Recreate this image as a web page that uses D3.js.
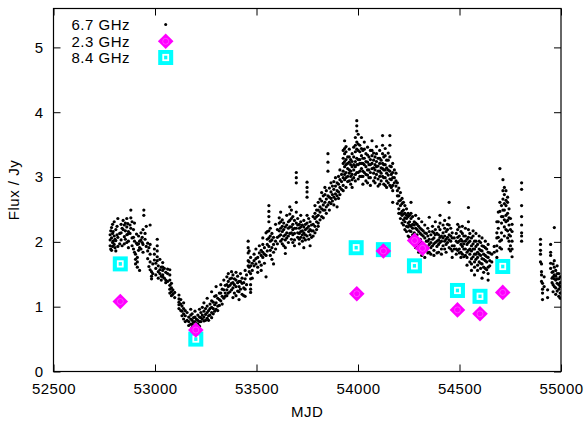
<!DOCTYPE html>
<html><head><meta charset="utf-8">
<script src="https://cdn.jsdelivr.net/npm/d3@7"></script>
<style>
html,body{margin:0;padding:0;background:#fff;}
svg text{font-family:"Liberation Sans",Arial,sans-serif;font-size:15px;letter-spacing:0.5px;fill:#000;}
</style></head>
<body>
<svg id="chart" width="584" height="421"></svg>
<script>
// 6.7 GHz monitoring: [MJD, [flux values read at that epoch]]
const flux67 = [
[52779,[2.11,1.94,2.03]],[52782,[1.89,2.17]],[52786,[2.22,2.06,1.87]],[52791,[2.27,2.13,1.99,1.93]],[52794,[2.16,2.01]],
[52799,[2.31,2.09,1.96]],[52803,[2.04,1.91]],[52807,[2.19,2.02,1.86]],[52813,[2.24,2.11]],[52817,[2.07,1.93,2.36]],
[52826,[2.13,1.97]],[52833,[2.27,2.14,2.03]],[52838,[2.21,1.94]],[52843,[2.33,2.19]],[52849,[2.08,1.97,2.26]],
[52854,[2.29,2.17,2.04]],[52861,[2.36,2.23,2.11,1.99]],[52866,[2.12,2.28]],[52869,[2.16,2.01,1.91]],[52877,[2.26,2.13]],
[52881,[2.49,2.37,2.21]],[52887,[2.06,1.94,2.31]],[52894,[2.19,2.07,1.89]],[52899,[2.29,2.01,1.84]],[52904,[1.81,1.73,1.66]],
[52909,[2.12,1.98]],[52913,[1.96,1.76,1.69,1.61]],[52919,[2.09,1.97,1.87]],[52924,[2.01,1.91,1.56]],[52931,[2.14,2.03,1.89]],
[52937,[1.99,2.07]],[52941,[2.19,1.96,1.84]],[52945,[2.49,2.41]],[52951,[2.13,2.04]],[52957,[2.24,1.93]],
[52964,[1.98,1.86,1.74]],[52970,[1.91,1.62]],[52976,[2.26,1.96,1.81,1.69,1.57]],[52983,[1.54,1.47,1.43]],[52989,[1.66,1.51]],
[52997,[1.89,1.81,1.72]],[53004,[1.67,1.59,1.49]],[53011,[2.04,1.94,1.86,1.77,1.71]],[53016,[1.63,1.54,1.44]],
[53024,[1.73,1.57,1.51]],[53031,[1.61,1.47,1.41]],[53038,[1.68,1.61,1.56,1.49,1.46]],[53046,[1.59,1.44]],
[53053,[1.53,1.41,1.37]],[53062,[1.51,1.39,1.58]],[53073,[1.57,1.49,1.41,1.33,1.27,1.21]],[53081,[1.36,1.29,1.23,1.17]],
[53088,[1.26,1.19]],[53097,[1.22,1.14]],
[53118,[1.18,1.12,1.07,1.03,0.97]],[53127,[1.11,1.04,0.94]],[53133,[1.01,0.93,0.86]],[53141,[1.06,0.97,0.89,0.81]],
[53149,[0.94,0.86,0.77]],[53158,[0.91,0.79]],[53166,[0.84,0.77,0.71]],[53176,[0.96,0.87,0.81,0.73]],
[53183,[0.89,0.79,0.73,0.68]],[53190,[0.83,0.76,0.69]],[53197,[0.93,0.84,0.77,0.71,0.66]],[53204,[0.81,0.74,0.69]],
[53211,[0.87,0.79,0.73]],[53219,[0.96,0.84,0.77,0.70]],[53226,[0.91,0.83,0.77]],[53233,[0.99,0.87,0.81]],
[53241,[1.06,0.93,0.84,0.78]],[53249,[0.97,0.88,0.79]],[53257,[1.13,1.01,0.91,0.82]],[53264,[0.94,0.86,0.79]],
[53271,[1.04,0.97,0.87]],[53279,[1.23,1.09,0.99,0.91,0.83]],[53287,[1.07,0.97,0.89]],[53294,[1.16,1.03,0.93]],
[53301,[1.31,1.17,1.06,0.96]],[53309,[1.13,1.01,0.94]],[53317,[1.21,1.11,1.02]],[53324,[1.34,1.21,1.09]],
[53331,[1.27,1.16,1.04]],[53339,[1.41,1.26,1.13]],[53346,[1.33,1.21,1.16]],[53354,[1.46,1.34,1.26,1.17]],
[53361,[1.51,1.39,1.31,1.21]],[53369,[1.43,1.33,1.23]],[53377,[1.54,1.44,1.36,1.26]],[53384,[1.49,1.37,1.29,1.14]],
[53391,[1.43,1.34,1.21]],[53399,[1.53,1.41,1.31,1.17]],[53407,[1.47,1.37,1.24]],[53414,[1.39,1.31,1.23,1.11]],
[53421,[1.51,1.39,1.27]],[53429,[1.44,1.36,1.19]],[53437,[1.37,1.29,1.17]],[53444,[1.56,1.43,1.27,1.16]],[53451,[1.49,1.34]],
[53459,[2.01,1.91,1.83,1.71,1.63]],[53464,[1.86,1.69,1.61,1.54]],[53471,[1.76,1.63,1.51,1.43,1.34,1.27,1.22]],
[53479,[1.67,1.56,1.44]],[53488,[1.81,1.71,1.63]],[53497,[1.89,1.74,1.66]],[53506,[1.76,1.61,1.53]],
[53514,[1.94,1.83,1.69]],[53523,[1.87,1.79,1.64,1.56]],[53531,[2.06,1.96,1.84,1.76]],[53539,[1.91,1.81,1.67]],
[53547,[2.14,1.79,1.46]],[53553,[2.16,2.04,1.96,1.86]],[53561,[2.56,2.47,2.39,2.31,2.17,2.06,1.93]],
[53568,[2.21,2.09,2.01,1.87,1.79]],[53576,[2.13,2.03,1.91,1.73]],[53584,[2.07,1.96,1.84,1.66]],[53594,[2.01,1.89,2.27]],
[53603,[2.19,2.07,1.97]],
[53612,[2.37,2.29,2.17,2.09]],[53619,[2.46,2.31,2.21,2.11,2.01]],[53627,[2.34,2.24,2.16,2.04,1.97]],
[53634,[2.29,2.19,2.09,1.94]],[53642,[2.23,2.11,2.03,1.91,1.82]],[53649,[2.41,2.26,2.14,2.06]],
[53657,[2.31,2.21,2.09,1.99]],[53664,[2.54,2.43,2.33,2.23,2.13]],[53672,[2.49,2.36,2.23,2.14,2.04]],
[53679,[2.39,2.27,2.19,2.11,1.99]],[53687,[2.33,2.21,2.13,2.03,1.94]],[53696,[3.07,2.99,2.91,2.61,2.46,2.29,2.21]],
[53703,[2.36,2.26,2.14,2.07]],[53711,[2.27,2.21,2.13,2.04,1.97]],[53718,[2.41,2.31,2.23,2.16,2.07]],
[53726,[2.26,2.17,2.11,2.01]],[53733,[2.33,2.23,2.14,2.06,1.91]],[53741,[2.27,2.19,2.11,2.03]],
[53749,[2.92,2.84,2.77,2.69,2.41,2.29,2.21,2.09]],[53757,[2.36,2.24,2.16,2.04]],[53764,[2.31,2.19,2.11,1.94]],
[53771,[2.26,2.17,2.07]],[53779,[2.39,2.27,2.17,2.09]],[53788,[2.56,2.44,2.36,2.24,2.14]],[53796,[2.49,2.39,2.31,2.19]],
[53804,[2.61,2.49,2.41,2.29,2.24]],
[53813,[2.66,2.54,2.46,2.34]],[53821,[2.76,2.63,2.51,2.39]],[53829,[2.71,2.57,2.49,2.37]],[53837,[2.84,2.73,2.61,2.49]],
[53844,[2.79,2.66,2.54,2.44]],[53852,[3.36,3.23,3.09,2.71,2.57]],[53859,[2.83,2.69,2.61,2.49]],[53867,[2.91,2.77,2.67,2.59]],
[53874,[2.86,2.73,2.63]],[53881,[2.93,2.81,2.69,2.57]],[53889,[2.99,2.86,2.74,2.66]],[53897,[2.91,2.79,2.71,2.54]],
[53904,[3.01,2.89,2.77,2.67]],[53911,[3.11,2.96,2.84,2.73]],[53919,[3.04,2.93,2.81]],
[53927,[3.41,3.29,3.21,3.09,2.99,2.87,2.79]],[53934,[3.56,3.44,3.36,3.24,3.16,3.04,2.96]],
[53941,[3.47,3.39,3.27,3.19,3.07,2.99,2.84]],[53949,[3.31,3.21,3.13,3.01,2.93]],[53957,[3.43,3.31,3.23,3.11,3.06,2.94]],
[53964,[3.27,3.19,3.09,3.01,2.89]],[53971,[3.36,3.24,3.16,3.04,2.96,2.84]],[53979,[3.46,3.31,3.19,3.11,2.99]],
[53987,[3.61,3.49,3.39,3.24,3.16,3.04,2.94]],[53994,[3.87,3.79,3.71,3.54,3.43,3.29,3.19,3.07]],
[54001,[3.66,3.51,3.41,3.27,3.19,3.07,2.97]],[54009,[3.49,3.39,3.27,3.21,3.09,3.01]],[54017,[3.61,3.44,3.33,3.21,3.13,3.01]],
[54024,[3.41,3.29,3.21,3.09,3.01,2.89]],[54031,[3.54,3.43,3.29,3.19,3.07]],[54039,[3.36,3.24,3.16,3.04,2.94]],
[54047,[3.46,3.34,3.23,3.11,3.03,2.91]],[54054,[3.31,3.19,3.11,2.99]],[54061,[3.41,3.27,3.19,3.07,2.99,2.87]],
[54069,[3.56,3.41,3.33,3.21,3.13]],[54077,[3.37,3.26,3.14,3.06,2.94]],[54084,[3.31,3.19,3.11,2.99,2.91]],
[54091,[3.47,3.36,3.24,3.16,3.04]],[54099,[3.29,3.17,3.09,2.97,2.86]],[54107,[3.41,3.29,3.21,3.09,3.01,2.89]],
[54114,[3.26,3.14,3.06,2.94]],[54121,[3.64,3.49,3.36,3.21,3.13,3.01]],[54127,[3.31,3.19,3.11,2.99,2.89]],
[54134,[3.44,3.33,3.19,3.11,2.99,2.87]],[54141,[3.26,3.14,3.06,2.94,2.84]],[54149,[3.37,3.26,3.11,3.03,2.91]],
[54157,[3.64,3.49,3.31,3.17,3.09,2.97,2.87]],[54164,[3.16,3.04,2.96,2.84]],[54171,[3.21,3.07,2.99,2.87,2.79,2.61]],
[54179,[3.11,2.99,2.91]],[54187,[3.06,2.94,2.86]],
[54194,[2.91,2.79,2.71,2.59]],[54201,[2.83,2.71,2.63,2.51,2.44]],[54209,[2.76,2.64,2.56,2.44,2.36]],
[54217,[2.67,2.59,2.47,2.41,2.29]],[54224,[2.61,2.49,2.43,2.34,2.26]],[54231,[2.56,2.44,2.37,2.31,2.19]],
[54239,[2.51,2.41,2.36,2.24,2.16]],[54247,[2.44,2.39,2.29,2.23,2.09]],[54254,[2.41,2.31,2.26,2.17,2.07]],
[54261,[2.61,2.44,2.36,2.24,2.16,2.04]],[54269,[2.39,2.27,2.21,2.11,2.03]],[54277,[2.31,2.26,2.14,2.09,1.97]],
[54284,[2.41,2.29,2.21,2.09,2.01,1.91]],[54291,[2.27,2.19,2.11,1.99,1.91]],[54299,[2.36,2.24,2.16,2.04,1.96,1.84]],
[54307,[2.21,2.13,2.04,1.96,1.87]],[54314,[2.31,2.19,2.11,1.99,1.91,1.79]],[54321,[2.17,2.09,1.97,1.91]],
[54329,[2.26,2.14,2.06,1.94,1.86,1.76]],[54337,[2.13,2.01,1.93,1.87]],[54344,[2.21,2.09,2.01,1.91,1.83]],
[54351,[2.38,2.16,2.04,1.96,1.84]],[54359,[2.11,1.99,1.91,1.81]],[54367,[2.24,2.16,2.04,1.94]],
[54374,[2.14,2.06,1.97,1.87,1.79]],[54381,[2.31,2.19,2.11,1.99]],[54389,[2.13,2.01,1.93,1.83]],
[54397,[2.23,2.11,2.03,1.96,1.84]],[54404,[2.41,2.29,2.19,2.07,1.99]],[54411,[2.09,2.01,1.89,1.81]],
[54419,[2.26,2.14,2.06,1.94]],[54427,[2.33,2.21,2.09,2.01,1.89]],[54434,[2.16,2.04,1.96,1.84]],
[54441,[2.27,2.19,2.07,1.99]],[54449,[2.61,2.37,2.26,2.11,2.03,1.91]],[54457,[2.21,2.09,2.01,1.89]],
[54464,[2.14,2.06,1.94,1.86,1.76]],[54474,[2.06,1.94,1.89]],[54484,[2.13,2.01,1.89,1.81]],
[54491,[2.27,2.19,2.07,1.99,1.87]],[54499,[2.23,2.09,2.01,1.89,1.83]],[54507,[2.16,2.04,1.96,1.84,1.76]],
[54514,[2.24,2.13,2.01,1.93,1.81]],[54521,[2.09,1.97,1.89,1.77]],[54529,[2.21,2.09,2.01,1.89,1.79]],
[54537,[2.04,1.96,1.84,1.76,1.64]],[54544,[2.53,2.31,2.19,2.07,1.99,1.87]],[54551,[2.13,2.01,1.89,1.81,1.69]],
[54559,[2.06,1.94,1.86,1.74,1.66,1.56]],[54567,[2.17,2.09,1.97,1.89,1.77]],[54574,[2.01,1.89,1.81,1.69,1.61,1.49]],
[54581,[2.13,2.01,1.93,1.81,1.73]],[54589,[1.96,1.84,1.76,1.64,1.56]],[54597,[2.09,2.01,1.89,1.81,1.69]],
[54604,[1.99,1.87,1.79,1.67,1.59]],[54611,[2.06,1.94,1.86,1.74,1.66,1.44]],[54619,[1.93,1.81,1.73,1.61,1.53]],
[54627,[2.01,1.91,1.79,1.71,1.59]],[54634,[1.89,1.77,1.69,1.57]],[54641,[1.96,1.84,1.76,1.61,1.51,1.41]],
[54649,[1.83,1.71,1.63]],[54659,[1.81,1.69]],[54671,[1.93,1.84]],
[54684,[2.31,2.14,2.06,1.94,1.86,1.76]],[54691,[2.46,2.31,2.21,2.07]],[54699,[3.13,2.61,2.47,2.01,1.91]],
[54707,[2.56,2.39,2.29,2.14,2.03,1.89]],[54714,[2.96,2.79,2.66,2.49,2.39]],[54721,[2.84,2.73,2.59,2.49,2.34,2.23,2.09]],
[54729,[2.79,2.64,2.56,2.41,2.31,2.19]],[54737,[2.69,2.61,2.44,2.33,2.17,2.06]],[54744,[2.51,2.37,2.26,2.11,2.01,1.89]],
[54751,[2.36,2.19,2.09,1.94,1.86]],[54759,[2.27,2.16,2.01,1.89,1.77]],[54806,[2.91,2.81,2.56,2.39,2.26,2.14,2.09,2.01]],
[54899,[2.04,1.96,1.87,1.81,1.69]],[54904,[1.66,1.54,1.49,1.39]],[54909,[1.36,1.27,1.21,1.11]],[54917,[1.46,1.31]],
[54934,[1.26,1.14]],[54949,[1.96,1.84,1.79,1.67,1.59]],[54956,[1.53,1.44,1.37]],[54961,[1.66,1.54,1.46,1.34,1.23]],
[54967,[2.22,1.71,1.61,1.49,1.43,1.31]],[54974,[1.56,1.47,1.41,1.29,1.19]],[54981,[1.63,1.51,1.43,1.36,1.24]],
[54989,[1.51,1.43,1.34,1.27,1.16]],[54996,[1.46,1.37,1.31,1.21,1.13]]
];
// 2.3 GHz
const mjd23  = [52829, 53201, 53994, 54125, 54279, 54318, 54490, 54601, 54713];
const flux23 = [1.08, 0.64, 1.20, 1.86, 2.02, 1.90, 0.95, 0.89, 1.22];
// 8.4 GHz
const mjd84  = [52829, 53201, 53991, 54125, 54278, 54490, 54601, 54713];
const flux84 = [1.66, 0.50, 1.91, 1.88, 1.63, 1.25, 1.16, 1.62];

const xTicks = [52500, 53000, 53500, 54000, 54500, 55000];
const yTicks = [0, 1, 2, 3, 4, 5];
const legendLabels = ["6.7 GHz", "2.3 GHz", "8.4 GHz"];

const M = {left:53.5, right:561, top:8.5, bottom:371.5};
const svg = d3.select("#chart");
const x = d3.scaleLinear().domain([52500, 55000]).range([M.left, M.right]);
const y = d3.scaleLinear().domain([0, 5.6]).range([M.bottom, M.top]);

const pts67 = flux67.flatMap(([m, fs]) => fs.map(f => ({m, f})));

svg.append("clipPath").attr("id","clip").append("rect")
  .attr("x", M.left).attr("y", M.top).attr("width", M.right-M.left).attr("height", M.bottom-M.top);

const plot = svg.append("g").attr("clip-path","url(#clip)");

// ticks (inward, mirrored)
const tl = 7;
const axB = d3.axisBottom(x).tickValues(xTicks).tickSize(-tl).tickSizeOuter(0).tickPadding(12).tickFormat(d3.format("d"));
const axT = d3.axisTop(x).tickValues(xTicks).tickSize(-tl).tickSizeOuter(0).tickFormat("");
const axL = d3.axisLeft(y).tickValues(yTicks).tickSize(-tl).tickSizeOuter(0).tickPadding(10).tickFormat(d3.format("d"));
const axR = d3.axisRight(y).tickValues(yTicks).tickSize(-tl).tickSizeOuter(0).tickFormat("");
function style(g){ g.select(".domain").remove(); g.selectAll("line").attr("stroke","#000").attr("stroke-width",1);
  g.selectAll("text").attr("font-family",null).attr("font-size",null).attr("fill","#000"); }
svg.append("g").attr("transform",`translate(0,${M.bottom})`).call(axB).call(style);
svg.append("g").attr("transform",`translate(0,${M.top})`).call(axT).call(style);
svg.append("g").attr("transform",`translate(${M.left},0)`).call(axL).call(style);
svg.append("g").attr("transform",`translate(${M.right},0)`).call(axR).call(style);

// data
plot.selectAll("circle.d67").data(pts67).enter().append("circle").attr("class","d67")
  .attr("cx", d => x(d.m)).attr("cy", d => y(d.f)).attr("r", 1.6).attr("fill","#000");

function square(g, cx, cy){
  g.append("rect").attr("x",cx-7.5).attr("y",cy-7.5).attr("width",15).attr("height",15).attr("fill","#00ffff");
  g.append("rect").attr("x",cx-2.5).attr("y",cy-2.7).attr("width",5).attr("height",5.4)
    .attr("fill","#00ffff").attr("stroke","#fff").attr("stroke-width",1.8);
}
function diamond(g, cx, cy){
  const h = 7.8;
  g.append("path").attr("d",`M${cx},${cy-h}L${cx+h},${cy}L${cx},${cy+h}L${cx-h},${cy}Z`).attr("fill","#ff00ff");
  g.append("circle").attr("cx",cx).attr("cy",cy).attr("r",3).attr("fill","none")
    .attr("stroke","rgba(255,255,255,0.25)").attr("stroke-width",1);
}
mjd84.forEach((m,i) => square(plot, x(m), y(flux84[i])));
mjd23.forEach((m,i) => diamond(plot, x(m), y(flux23[i])));

// border
svg.append("rect").attr("x",M.left).attr("y",M.top).attr("width",M.right-M.left).attr("height",M.bottom-M.top)
  .attr("fill","none").attr("stroke","#000").attr("stroke-width",1.2);

// axis labels
svg.append("text").attr("x",(M.left+M.right)/2).attr("y",417).attr("text-anchor","middle").text("MJD");
svg.append("text").attr("transform","translate(19,190) rotate(-90)").attr("text-anchor","middle").text("Flux / Jy");

// legend
const lg = svg.append("g");
const ly = [24.5, 41.3, 57.5];
legendLabels.forEach((t,i) => lg.append("text").attr("x",71.5).attr("y",ly[i]+5.5).text(t));
lg.append("circle").attr("cx",165.7).attr("cy",ly[0]).attr("r",1.5).attr("fill","#000");
diamond(lg, 165.7, ly[1]);
square(lg, 165.7, ly[2]);
</script>
</body></html>
